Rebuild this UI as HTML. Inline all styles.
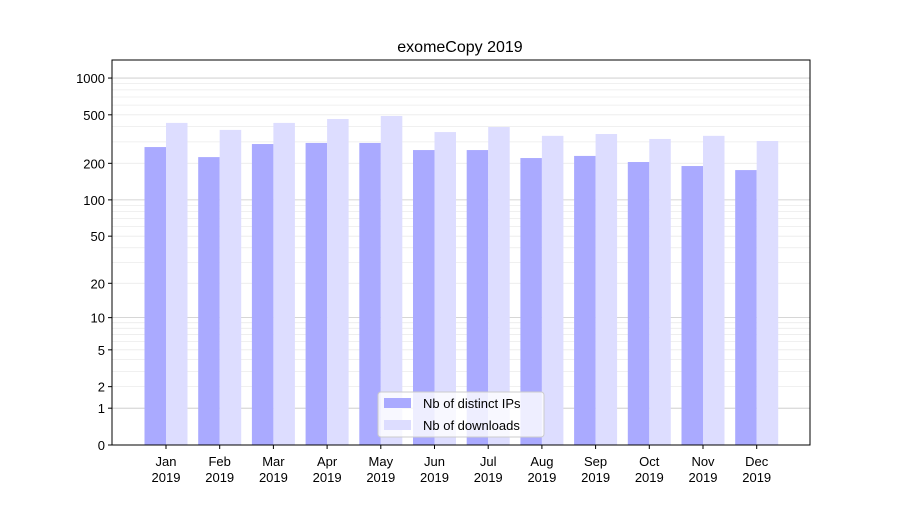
<!DOCTYPE html>
<html><head><meta charset="utf-8"><style>
body{margin:0;background:#fff;}
text{font-family:"Liberation Sans","DejaVu Sans",sans-serif;}
</style></head><body>
<svg id="chart" width="900" height="500" xmlns="http://www.w3.org/2000/svg">
<rect width="900" height="500" fill="#fff"/>
<text x="460" y="52" text-anchor="middle" font-size="16">exomeCopy 2019</text>
<g id="grid"></g><g id="bars"></g><g id="axes"></g>
</svg>
<script>
const months=["Jan","Feb","Mar","Apr","May","Jun","Jul","Aug","Sep","Oct","Nov","Dec"];
const distinctIPs=[272,225,288,294,294,257,257,221,230,205,190,176];
const downloads=[429,376,429,462,489,361,397,336,348,317,336,305];
const yTicks=[0,1,2,5,10,20,50,100,200,500,1000];
const NS="http://www.w3.org/2000/svg";
const L=112,R=810,T=60,B=445;
function y(v){return B-122.3*Math.log10(1+v);}
function xc(i){return 166+i*53.7;}
function mk(tag,attrs,parent){const e=document.createElementNS(NS,tag);for(const k in attrs)e.setAttribute(k,attrs[k]);document.getElementById(parent).appendChild(e);return e;}
// grid
const minors=[];
for(const d of [1,10,100,1000])for(let m=2;m<10;m++){const v=m*d;if(y(v)>T)minors.push(v);}
minors.forEach(v=>{const g=mk("line",{x1:L,x2:R,y1:y(v),y2:y(v),stroke:"#ebebeb","stroke-width":0.8},"grid");

});
[0,1,10,100,1000].forEach(v=>{const g=mk("line",{x1:L,x2:R,y1:y(v),y2:y(v),stroke:"#c8c8c8","stroke-width":0.8},"grid");

});
// bars
const bw=21.5;
months.forEach((m,i)=>{
 const a=mk("rect",{x:xc(i)-bw,y:y(distinctIPs[i]),width:bw,height:B-y(distinctIPs[i]),fill:"#aaaaff"},"bars");
 
 
 const b=mk("rect",{x:xc(i),y:y(downloads[i]),width:bw,height:B-y(downloads[i]),fill:"#ddddff"},"bars");
 
 
 const t=mk("line",{x1:xc(i),x2:xc(i),y1:B,y2:B+4,stroke:"#000"},"axes");
 
 
 const l1=mk("text",{x:xc(i),y:B+21,"text-anchor":"middle","font-size":13},"axes");l1.textContent=m;
 
 
 const l2=mk("text",{x:xc(i),y:B+37,"text-anchor":"middle","font-size":13},"axes");l2.textContent="2019";
 
 
});
yTicks.forEach(v=>{
 const t=mk("line",{x1:L-4,x2:L,y1:y(v),y2:y(v),stroke:"#000"},"axes");
 
 
 const l=mk("text",{x:L-7,y:y(v)+5,"text-anchor":"end","font-size":13},"axes");l.textContent=v;
 
 
});
const fr=mk("rect",{x:L,y:T,width:R-L,height:B-T,fill:"none",stroke:"#000","stroke-width":1},"axes");


// legend
const lg=mk("g",{},"axes");


const lb=mk("rect",{x:378,y:392,width:166,height:45,rx:3,fill:"#fff","fill-opacity":0.8,stroke:"#ccc"},"axes");


[["Nb of distinct IPs","#aaaaff",398],["Nb of downloads","#ddddff",420]].forEach(([s,c,yy])=>{
 const r=mk("rect",{x:384,y:yy,width:27,height:10,fill:c},"axes");
 
 
 const t=mk("text",{x:423,y:yy+10,"font-size":13},"axes");t.textContent=s;
 
 
});
</script>
</body></html>
